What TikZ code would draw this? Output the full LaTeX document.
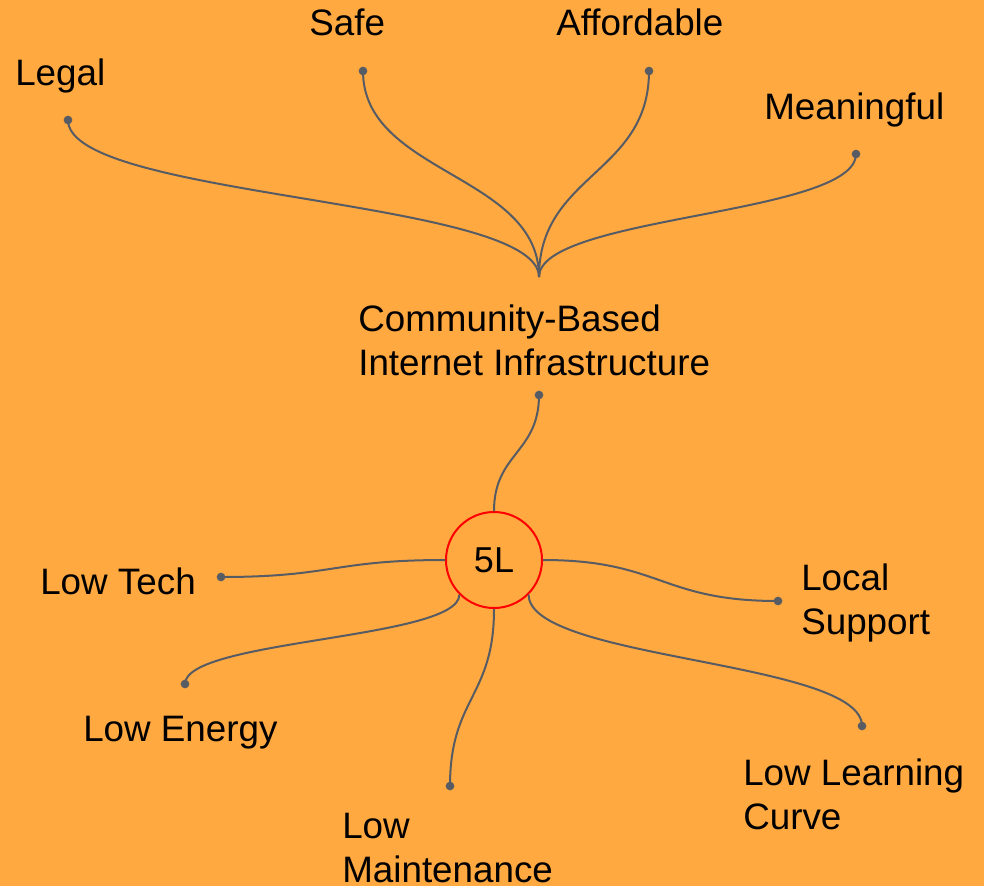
\documentclass[tikz,border=0pt]{standalone}
\usepackage{fontspec}
\setmainfont{Liberation Sans}
\usetikzlibrary{calc}
\definecolor{bgorange}{HTML}{FFA940}
\definecolor{linkgray}{HTML}{575C64}
\definecolor{ringred}{HTML}{FF0000}
\newcommand\mmvlink[2]{\draw[link] let \p1=(#1), \p2=(#2) in (\p1) .. controls (\x1,{(\y1+\y2)/2}) and (\x2,{(\y1+\y2)/2}) .. (\p2);}
\newcommand\mmhlink[2]{\draw[link] let \p1=(#1), \p2=(#2) in (\p1) .. controls ({(\x1+\x2)/2},\y1) and ({(\x1+\x2)/2},\y2) .. (\p2);}
\tikzset{
  link/.style={draw=linkgray, line width=1.5pt},
  dotnode/.style={circle, fill=linkgray, inner sep=0pt, minimum size=6.5pt},
  label/.style={anchor=base west, inner sep=0pt, align=left, text=black,
    font=\fontsize{27.6}{33}\selectfont},
  rootnode/.style={circle, draw=ringred, line width=1.5pt, minimum size=72pt, inner sep=0pt,
    font=\fontsize{27}{33}\selectfont}
}
\begin{document}
\begin{tikzpicture}[x=0.75pt,y=-0.75pt]
\fill[bgorange] (0,0) rectangle (984,886);
\useasboundingbox (0,0) rectangle (984,886);

% texts (multi-line nodes anchored at the baseline of their last line)
\node[label] (tLegal) at (15,85) {Legal};
\node[label] (tSafe) at (309,35) {Safe};
\node[label] (tAfford) at (556,35) {Affordable};
\node[label] (tMean) at (764,119) {Meaningful};
\node[label] (tCBI) at (358,375) {Community-Based\\Internet Infrastructure};
\node[label] (tTech) at (40,594) {Low Tech};
\node[label] (tLocal) at (801,634) {Local\\Support};
\node[label] (tEnergy) at (83,741) {Low Energy};
\node[label] (tLearn) at (743,829) {Low Learning\\Curve};
\node[label] (tMaint) at (342,882) {Low\\Maintenance};

% nodes
\node[rootnode] (root) at (494,560) {5L};
\coordinate (J) at (539,277);
\node[dotnode] (dLegal) at (68,120) {};
\node[dotnode] (dSafe) at (363,71) {};
\node[dotnode] (dAfford) at (649,71) {};
\node[dotnode] (dMean) at (856,154) {};
\node[dotnode] (dCBI) at (539,395) {};
\node[dotnode] (dTech) at (221,577) {};
\node[dotnode] (dLocal) at (778,601) {};
\node[dotnode] (dEnergy) at (185,684) {};
\node[dotnode] (dMaint) at (450,786) {};
\node[dotnode] (dLearn) at (862,726) {};

% links
\mmvlink{J}{dLegal}
\mmvlink{J}{dSafe}
\mmvlink{J}{dAfford}
\mmvlink{J}{dMean}
\mmvlink{root.north}{dCBI}
\mmhlink{root.west}{dTech}
\mmhlink{root.east}{dLocal}
\mmvlink{root.south west}{dEnergy}
\mmvlink{root.south}{dMaint}
\mmvlink{root.south east}{dLearn}
\end{tikzpicture}
\end{document}
